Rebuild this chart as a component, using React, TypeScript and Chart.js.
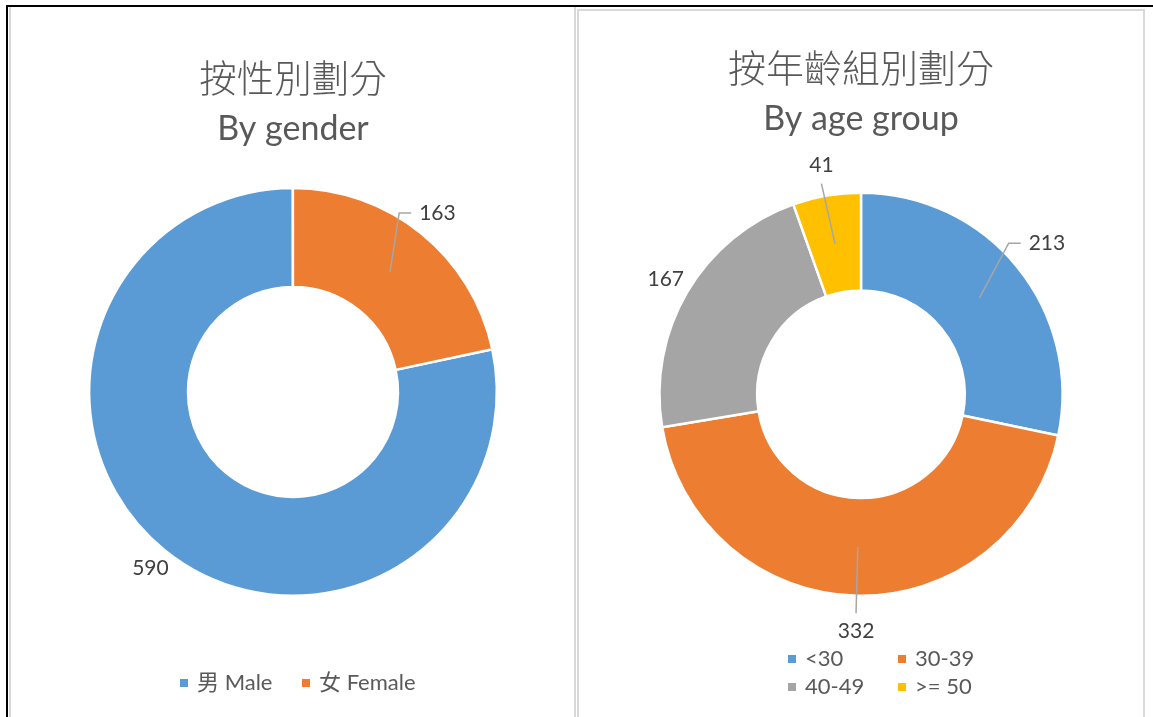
import React, { useEffect, useRef } from "react";
import { Chart, registerables } from "chart.js";

Chart.register(...registerables);

// ---- data ----
const genderLabels = ["男 Male", "女 Female"];
const genderValues = [590, 163];
const genderColors = ["#5B9BD5", "#ED7D31"];

const ageLabels = ["<30", "30-39", "40-49", ">= 50"];
const ageValues = [213, 332, 167, 41];
const ageColors = ["#5B9BD5", "#ED7D31", "#A5A5A5", "#FFC000"];

const LATIN = "Lato, 'Noto Sans CJK TC', sans-serif";
const CJK = "'Noto Sans CJK TC', Lato, sans-serif";

const excelPlugin = {
  id: "excelLabels",
  afterDatasetsDraw(chart: any, _args: any, opts: any) {
    const ctx = chart.ctx;
    const meta = chart.getDatasetMeta(0);
    const ds = chart.data.datasets[0];
    const data = ds.data;
    ctx.save();
    ctx.font = `${opts.fontSize}px ${LATIN}`;
    ctx.textAlign = "center";
    ctx.textBaseline = "middle";
    meta.data.forEach((arc: any, i: number) => {
      const p = arc.getProps(["x", "y", "startAngle", "endAngle", "innerRadius", "outerRadius"], true);
      const mid = (p.startAngle + p.endAngle) / 2;
      const cos = Math.cos(mid);
      const sin = Math.sin(mid);
      const r = p.outerRadius + opts.offsets[i];
      const lx = p.x + cos * r;
      const ly = p.y + sin * r;
      const text = String(data[i]);
      if (opts.leaders[i]) {
        const rm = (p.innerRadius + p.outerRadius) / 2;
        const sx = p.x + cos * rm;
        const sy = p.y + sin * rm;
        const tw = ctx.measureText(text).width;
        ctx.beginPath();
        ctx.moveTo(sx, sy);
        if (Math.abs(cos) > 0.5) {
          const side = Math.sign(cos);
          const ex = lx - side * (tw / 2 + 8);
          const bx = ex - side * 12;
          ctx.lineTo(bx, ly);
          ctx.lineTo(ex, ly);
        } else {
          const sg = Math.sign(sin);
          ctx.lineTo(lx, ly - sg * (opts.fontSize / 2 + 8));
        }
        ctx.strokeStyle = "#A6A6A6";
        ctx.lineWidth = 1.5;
        ctx.stroke();
      }
      ctx.fillStyle = "#404040";
      ctx.fillText(text, lx, ly);
    });
    const lg = opts.legend;
    ctx.textAlign = "left";
    ctx.font = `${lg.fontSize}px ${LATIN}`;
    chart.data.labels.forEach((lab: string, i: number) => {
      const col = i % lg.cols;
      const row = Math.floor(i / lg.cols);
      const x = lg.left + col * lg.colWidth;
      const y = lg.top + row * lg.rowHeight;
      ctx.fillStyle = ds.backgroundColor[i];
      ctx.fillRect(x, y - 4, 8, 8);
      ctx.fillStyle = "#595959";
      ctx.fillText(lab, x + 17, y);
    });
    ctx.restore();
  },
};

function Donut(props: {
  labels: string[];
  values: number[];
  colors: string[];
  title: string;
  subtitle: string;
  width: number;
  height: number;
  rotation: number;
  titleSize: number;
  titlePad: number;
  subPadTop: number;
  subPadBottom: number;
  bottomPad: number;
  offsets: number[];
  leaders: boolean[];
  legend: any;
}) {
  const ref = useRef<HTMLCanvasElement | null>(null);
  useEffect(() => {
    if (!ref.current) return;
    const chart = new Chart(ref.current, {
      type: "doughnut",
      data: {
        labels: props.labels,
        datasets: [
          {
            data: props.values,
            backgroundColor: props.colors,
            borderColor: "#FFFFFF",
            borderWidth: 2.5,
          },
        ],
      },
      options: {
        responsive: false,
        animation: false,
        cutout: "51.5%",
        rotation: props.rotation,
        layout: { padding: { top: 0, bottom: props.bottomPad, left: 0, right: 0 } },
        plugins: {
          legend: { display: false },
          tooltip: { enabled: false },
          title: {
            display: true,
            text: props.title,
            color: "#595959",
            font: { family: CJK, size: props.titleSize, weight: "300" as any, lineHeight: 1.2 },
            padding: { top: props.titlePad, bottom: 0 },
          },
          subtitle: {
            display: true,
            text: props.subtitle,
            color: "#595959",
            font: { family: LATIN, size: 34, weight: "normal" as any, lineHeight: 1.2 },
            padding: { top: props.subPadTop, bottom: props.subPadBottom },
          },
          excelLabels: {
            fontSize: 21,
            offsets: props.offsets,
            leaders: props.leaders,
            legend: props.legend,
          },
        } as any,
      },
      plugins: [excelPlugin as any],
    });
    return () => chart.destroy();
  }, []);
  return (
    <canvas
      ref={ref}
      width={props.width}
      height={props.height}
      style={{ display: "block", width: props.width, height: props.height }}
    />
  );
}

export default function App() {
  return (
    <div
      style={{
        position: "absolute",
        left: 0,
        top: 0,
        width: 1153,
        height: 717,
        background: "#FFFFFF",
        overflow: "hidden",
      }}
    >
      <div style={{ position: "absolute", left: 6, top: 5, width: 1147, height: 2, background: "#000" }} />
      <div style={{ position: "absolute", left: 6, top: 5, width: 2, height: 712, background: "#000" }} />
      <div
        style={{
          position: "absolute",
          left: 9,
          top: 7,
          width: 567,
          height: 730,
          boxSizing: "border-box",
          borderLeft: "2px solid #D9D9D9",
          borderRight: "2px solid #D9D9D9",
        }}
      />
      <div
        style={{
          position: "absolute",
          left: 577,
          top: 9,
          width: 568,
          height: 730,
          boxSizing: "border-box",
          border: "2px solid #D9D9D9",
        }}
      />
      <div style={{ position: "absolute", left: 11, top: 7 }}>
        <Donut
          labels={genderLabels}
          values={genderValues}
          colors={genderColors}
          title="按性別劃分"
          subtitle="By gender"
          width={564}
          height={710}
          rotation={77.9}
          titleSize={37.5}
          titlePad={48}
          subPadTop={9}
          subPadBottom={37}
          bottomPad={120}
          offsets={[23, 26]}
          leaders={[false, true]}
          legend={{ cols: 2, colWidth: 122, rowHeight: 28, left: 169, top: 676, fontSize: 22 }}
        />
      </div>
      <div style={{ position: "absolute", left: 579, top: 12 }}>
        <Donut
          labels={ageLabels}
          values={ageValues}
          colors={ageColors}
          title="按年齡組別劃分"
          subtitle="By age group"
          width={564}
          height={705}
          rotation={0}
          titleSize={38}
          titlePad={33}
          subPadTop={8}
          subPadBottom={52}
          bottomPad={120}
          offsets={[38, 36, 25, 31]}
          leaders={[true, true, false, true]}
          legend={{ cols: 2, colWidth: 110, rowHeight: 28, left: 209, top: 647, fontSize: 22 }}
        />
      </div>
    </div>
  );
}
